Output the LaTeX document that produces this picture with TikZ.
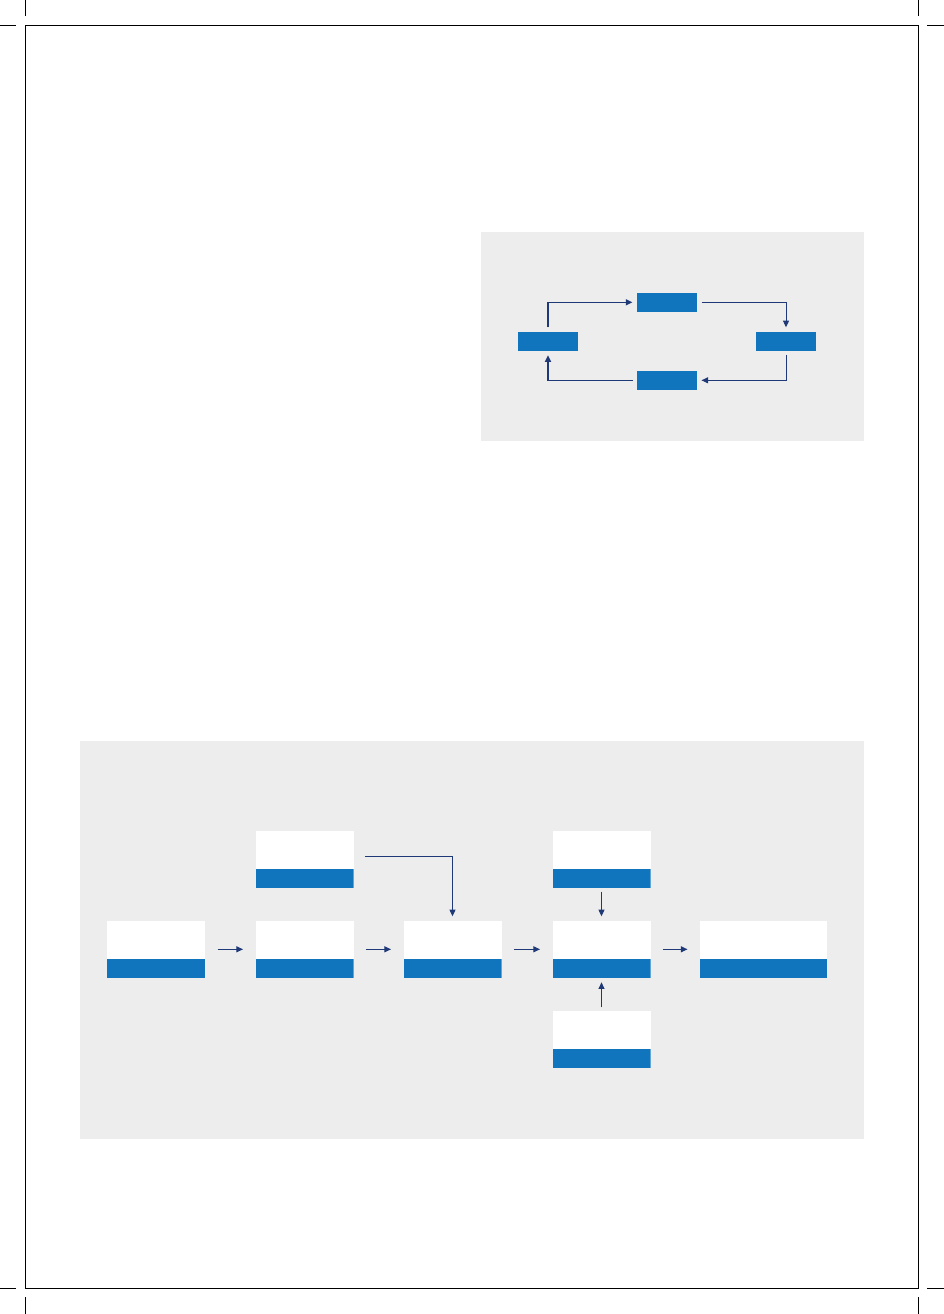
\documentclass[tikz,border=0pt]{standalone}
\usetikzlibrary{arrows.meta}

\definecolor{panelgray}{RGB}{237,237,237}
\definecolor{boxblue}{RGB}{16,117,188}
\definecolor{linknavy}{RGB}{30,57,118}

\tikzset{every picture/.style={line width=0.75pt}}
\tikzset{
  smallbox/.style={fill=boxblue, inner sep=0pt, minimum width=45pt, minimum height=14.25pt},
  stagebox/.style={fill=white, inner sep=0pt, minimum width=73.5pt, minimum height=42.75pt,
    path picture={\fill[boxblue] (path picture bounding box.south west) rectangle ([yshift=14.25pt]path picture bounding box.south east);}},
  link/.style={draw=linknavy, line width=0.75pt, -{Triangle[length=5pt,width=4.5pt]}},
}

\begin{document}
\begin{tikzpicture}[x=0.75pt,y=0.75pt,yscale=-1,xscale=1]
\useasboundingbox (0,0) rectangle (944,1314);

%Page frame and crop marks
\draw [line width=0.75pt] (25,25) rectangle (918.5,1288);
\draw (25,0) -- (25,16) ; \draw (0,25) -- (16,25) ;
\draw (918.5,0) -- (918.5,16) ; \draw (927,25) -- (944,25) ;
\draw (25,1297) -- (25,1314) ; \draw (0,1288) -- (16,1288) ;
\draw (918.5,1297) -- (918.5,1314) ; \draw (927,1288) -- (944,1288) ;

%Panels
\fill [panelgray] (481,232) rectangle (864,441);
\fill [panelgray] (80,741) rectangle (864,1139);

%Cycle boxes
\node [smallbox] (ctop) at (667,302.3) {};
\node [smallbox] (cleft) at (548,341.3) {};
\node [smallbox] (cright) at (786,341.3) {};
\node [smallbox] (cbot) at (667,380.3) {};

%Cycle links
\draw [link, line width=1.2pt] ([yshift=-3pt]cleft.north) |- ([xshift=-3pt]ctop.west) ;
\draw [link] ([xshift=3pt]ctop.east) -| ([yshift=-3pt]cright.north) ;
\draw [link] ([yshift=3pt]cright.south) |- ([xshift=3pt]cbot.east) ;
\draw [link, line width=1.2pt] ([xshift=-3pt]cbot.west) -| ([yshift=3pt]cleft.south) ;

%Process boxes
\node [stagebox] (s1) at (156,949.3) {};
\node [stagebox] (s2) at (304.5,949.3) {};
\node [stagebox] (s3) at (452.5,949.3) {};
\node [stagebox] (s4) at (601.5,949.3) {};
\node [stagebox, minimum width=95.25pt] (s5) at (763.5,949.3) {};
\node [stagebox] (s2up) at (304.5,859.3) {};
\node [stagebox] (s4up) at (601.5,859.3) {};
\node [stagebox] (s4down) at (601.5,1039.8) {};

%Process links
\draw [link, shorten <=9pt, shorten >=9pt] (s1) -- (s2) ;
\draw [link, shorten <=9pt, shorten >=9pt] (s2) -- (s3) ;
\draw [link, shorten <=9pt, shorten >=9pt] (s3) -- (s4) ;
\draw [link, shorten <=9pt, shorten >=9pt] (s4) -- (s5) ;
\draw [link] ([xshift=8.25pt,yshift=-2.25pt]s2up.east) -| ([yshift=-3pt]s3.north) ;
\draw [link] ([yshift=2.5pt]s4up.south) -- ([yshift=-3pt]s4.north) ;
\draw [link] ([yshift=-2.5pt]s4down.north) -- ([yshift=3pt]s4.south) ;

\end{tikzpicture}
\end{document}
